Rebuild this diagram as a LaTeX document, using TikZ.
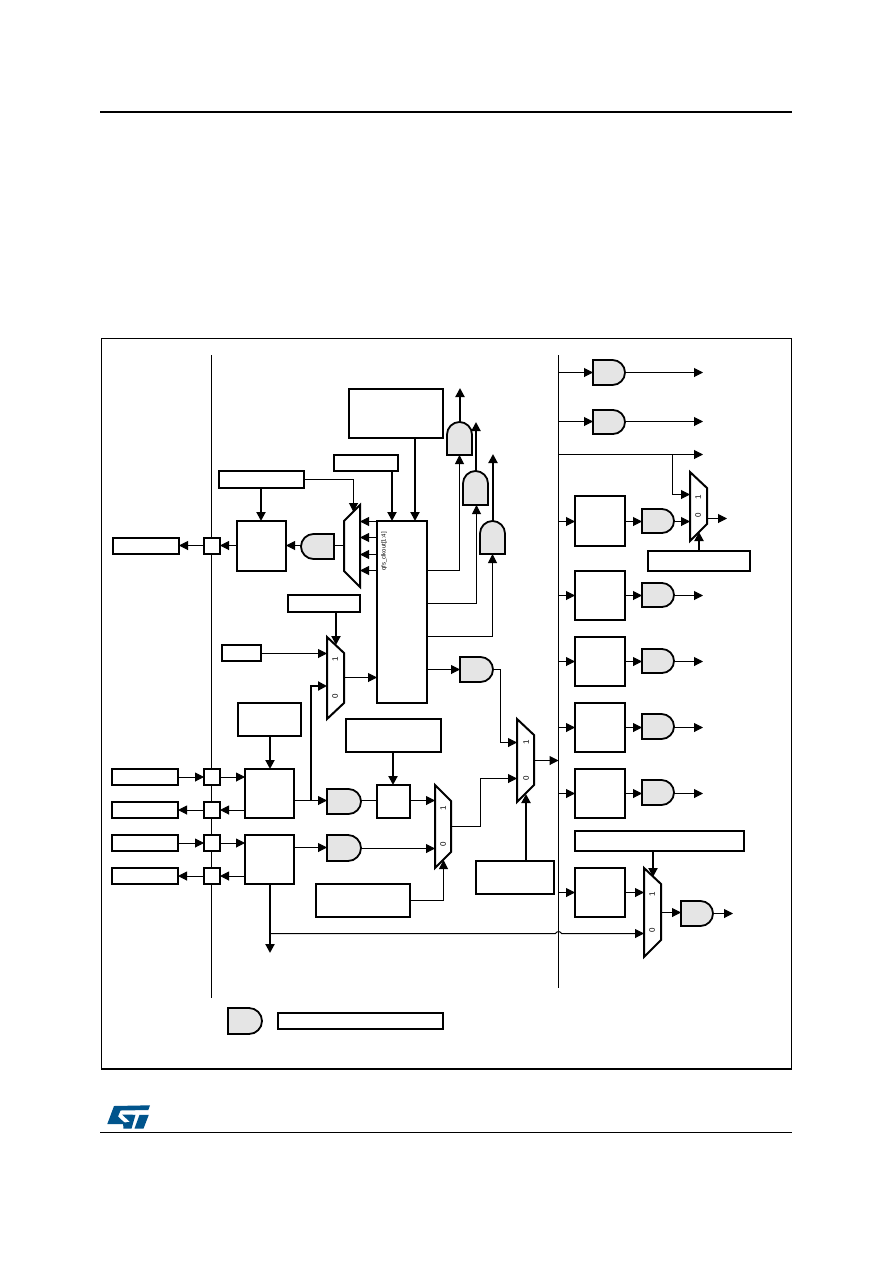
\documentclass[tikz,border=0pt]{standalone}
\usepackage{fontspec}
\setmainfont{Liberation Sans}
\newfontfamily\lblfont{Liberation Sans}
\usetikzlibrary{arrows.meta,calc}
\definecolor{gatefill}{RGB}{229,229,229}
\definecolor{stblue}{RGB}{0,84,140}
\tikzset{
  boxn/.style={draw=black,line width=2pt,fill=white,rectangle,inner sep=0pt,outer sep=0pt},
  hid/.style={rectangle,inner sep=0pt,outer sep=0pt},
  gateline/.style={draw=black,line width=1.8pt,fill=gatefill},
  muxline/.style={draw=black,line width=2pt,fill=white},
  thinw/.style={line width=1pt},
  thickw/.style={line width=2pt},
  thinarr/.style={thinw,-{Triangle[length=9pt,width=9pt]}},
  thickarr/.style={thickw,-{Triangle[length=9pt,width=9pt]}},
  muxlab/.style={font=\lblfont\fontsize{8}{8}\selectfont,rotate=90,inner sep=0pt},
}
\newcommand\bx[5]{% name x1 y1 x2 y2
  \pgfmathsetmacro\bw{#4-#2}\pgfmathsetmacro\bh{#5-#3}
  \pgfmathsetmacro\bcx{(#2+#4)/2}\pgfmathsetmacro\bcy{(#3+#5)/2}
  \node[boxn,minimum width=\bw pt,minimum height=\bh pt] (#1) at (\bcx,\bcy) {};}
\newcommand\hidden[5]{%
  \pgfmathsetmacro\bw{#4-#2}\pgfmathsetmacro\bh{#5-#3}
  \pgfmathsetmacro\bcx{(#2+#4)/2}\pgfmathsetmacro\bcy{(#3+#5)/2}
  \node[hid,minimum width=\bw pt,minimum height=\bh pt] (#1) at (\bcx,\bcy) {};}
\newcommand\gateR[5]{%
  \pgfmathsetmacro\gr{(#5-#3)/2}\pgfmathsetmacro\gm{(#3+#5)/2}
  \pgfmathsetmacro\ga{#4-\gr}\pgfmathsetmacro\gk{0.55*\gr}
  \path[gateline] (#2,#3) -- (\ga,#3) .. controls ({\ga+\gk},#3) and (#4,{\gm-\gk}) .. (#4,\gm)
    .. controls (#4,{\gm+\gk}) and ({\ga+\gk},#5) .. (\ga,#5) -- (#2,#5) -- cycle;
  \hidden{#1}{#2}{#3}{#4}{#5}}
\newcommand\gateL[5]{%
  \pgfmathsetmacro\gr{(#5-#3)/2}\pgfmathsetmacro\gm{(#3+#5)/2}
  \pgfmathsetmacro\ga{#2+\gr}\pgfmathsetmacro\gk{0.55*\gr}
  \path[gateline] (#4,#3) -- (\ga,#3) .. controls ({\ga-\gk},#3) and (#2,{\gm-\gk}) .. (#2,\gm)
    .. controls (#2,{\gm+\gk}) and ({\ga-\gk},#5) .. (\ga,#5) -- (#4,#5) -- cycle;
  \hidden{#1}{#2}{#3}{#4}{#5}}
\newcommand\gateU[5]{%
  \pgfmathsetmacro\gr{(#4-#2)/2}\pgfmathsetmacro\gm{(#2+#4)/2}
  \pgfmathsetmacro\ga{#3+\gr}\pgfmathsetmacro\gk{0.55*\gr}
  \path[gateline] (#2,#5) -- (#2,\ga) .. controls (#2,{\ga-\gk}) and ({\gm-\gk},#3) .. (\gm,#3)
    .. controls ({\gm+\gk},#3) and (#4,{\ga-\gk}) .. (#4,\ga) -- (#4,#5) -- cycle;
  \hidden{#1}{#2}{#3}{#4}{#5}}
\newcommand\mux[7]{% name x1 x2 yl1 yl2 yr1 yr2
  \path[muxline] (#2,#4) -- (#3,#6) -- (#3,#7) -- (#2,#5) -- cycle;
  \pgfmathsetmacro\mt{min(#4,#6)}\pgfmathsetmacro\mb{max(#5,#7)}
  \hidden{#1}{#2}{\mt}{#3}{\mb}}
\begin{document}
\begin{tikzpicture}[x=1pt,y=-1pt,line join=miter]
\useasboundingbox (0,0) rectangle (892,1263);
\fill[white] (0,0) rectangle (892,1263);
% page furniture
\coordinate (hdA) at (100,112); \coordinate (hdB) at (792,112);
\draw[line width=2pt] (hdA) -- (hdB);
\coordinate (ftA) at (100,1132.5); \coordinate (ftB) at (792,1132.5);
\draw[line width=1pt] (ftA) -- (ftB);
\draw[line width=1pt] (101.5,1069) -- (101.5,338.5) -- (791.5,338.5) -- (791.5,1069);
\coordinate (frA) at (101,1069); \coordinate (frB) at (792,1069);
\draw[line width=2pt] (frA) -- (frB);
% logo
\fill[stblue] (107.3,1124) -- (114,1106) -- (150,1105.3) -- (148.3,1110) -- (120.5,1110.5) -- (118,1116.5) -- (126,1124) -- cycle;
\fill[stblue] (123.5,1128.6) -- (131.5,1128.6) -- (135.5,1114.8) -- (122,1114.5) -- (130,1122) -- (123,1122.5) -- cycle;
\fill[stblue] (134.5,1128.6) -- (143.5,1128.6) -- (148.8,1114.8) -- (139.5,1114.8) -- cycle;
% domain lines
\coordinate (dlA) at (211.5,355); \coordinate (dlB) at (211.5,998);
\draw[thinw] (dlA) -- (dlB);
\coordinate (busA) at (558.5,355); \coordinate (busB) at (558.5,988);
\draw[thinw] (busA) -- (busB);
% left column
\bx{extA}{113}{538}{179}{554}
\bx{padA}{204}{538}{220}{554}
\bx{extB}{112}{769}{178}{785}
\bx{extC}{112}{802}{178}{818}
\bx{extD}{112}{835}{178}{851}
\bx{extE}{112}{868}{178}{884}
\bx{padB}{204}{769}{220}{785}
\bx{padC}{204}{802}{220}{818}
\bx{padD}{204}{835}{220}{851}
\bx{padE}{204}{868}{220}{884}
% centre blocks
\bx{cfgTop}{349}{389}{443}{438}
\bx{cfgSmall}{334}{455}{398}{471}
\bx{cfgLong}{219}{471}{304}{488}
\bx{divOut}{237}{521}{286}{571}
\bx{core}{377}{521}{427}{703}
\bx{cfgSel}{288}{595}{360}{612}
\bx{cfgIn}{222}{645}{261}{661}
\bx{cfgHse}{238}{703}{301}{736}
\bx{cfgDiv}{346}{719}{441}{752}
\bx{oscA}{245}{769}{294}{818}
\bx{oscB}{245}{835}{294}{884}
\bx{divC}{377}{785}{410}{818}
\bx{cfgLow}{316}{884}{410}{917}
\bx{cfgSys}{476}{861}{554}{894}
% right blocks
\bx{preA}{575}{496}{625}{546}
\bx{preB}{575}{571}{625}{620}
\bx{preC}{575}{637}{625}{686}
\bx{preD}{575}{703}{625}{752}
\bx{preE}{575}{769}{625}{818}
\bx{preF}{575}{868}{625}{917}
\bx{cfgR}{648}{551}{750}{571}
\bx{cfgBar}{575}{831}{744}{851}
% gates
\gateL{gOut}{301}{534}{334}{559}
\gateU{gUa}{447}{422}{472}{455}
\gateU{gUb}{463}{471}{488}{505}
\gateU{gUc}{480}{521}{505}{554}
\gateR{gCore}{460}{657}{493}{682}
\gateR{gOa}{327}{789}{361}{814}
\gateR{gOb}{327}{835}{361}{861}
\gateR{gTa}{593}{360}{625}{385}
\gateR{gTb}{593}{410}{625}{434}
\gateR{gPa}{642}{509}{674}{533}
\gateR{gPb}{642}{583}{674}{607}
\gateR{gPc}{642}{649}{674}{673}
\gateR{gPd}{642}{714}{674}{739}
\gateR{gPe}{642}{780}{674}{805}
\gateR{gPf}{681}{901}{713}{926}
\gateR{gLeg}{228}{1008}{262}{1034}
\bx{legBox}{278}{1013}{443}{1029}
% muxes
\mux{mxF}{344}{360}{521}{571}{505}{587}
\mux{mxA}{327}{344}{637}{719}{653}{703}
\mux{mxC}{435}{451}{785}{868}{801}{852}
\mux{mxB}{517}{534}{719}{802}{735}{785}
\mux{mxD}{690}{707}{472}{541}{488}{524}
\mux{mxE}{644}{661}{868}{957}{884}{940}
% labels
\node[muxlab] (lA1) at (335,659) {1}; \node[muxlab] (lA0) at (335,696) {0};
\node[muxlab] (lC1) at (443,808) {1}; \node[muxlab] (lC0) at (443,844) {0};
\node[muxlab] (lB1) at (526,742) {1}; \node[muxlab] (lB0) at (526,778) {0};
\node[muxlab] (lD1) at (698,497) {1}; \node[muxlab] (lD0) at (698,515) {0};
\node[muxlab] (lE1) at (652,894) {1}; \node[muxlab] (lE0) at (652,930) {0};
\node[rotate=90,anchor=west,inner sep=0pt,font=\lblfont\fontsize{6}{6}\selectfont] (clkTxt) at (384,571) {qfs\_clkout[1:4]};
% free ends
\coordinate (uaEnd) at (460,388);
\coordinate (ubEnd) at (476,422);
\coordinate (ucEnd) at (493,454);
\coordinate (taEnd) at (703,373);
\coordinate (tbEnd) at (703,422);
\coordinate (tcEnd) at (703,455);
\coordinate (pbEnd) at (703,595);
\coordinate (pcEnd) at (703,661);
\coordinate (pdEnd) at (703,727);
\coordinate (peEnd) at (703,793);
\coordinate (pfEnd) at (733,913);
\coordinate (mdEnd) at (727,518);
\coordinate (oscEnd) at (270,953);
% centre-left connectors
\draw[thickarr] (cfgLong.south -| 261,0) -- (divOut.north -| 261,0);
\draw[thinw,-{Triangle[length=9pt,width=9pt]}] (cfgLong.east |- 0,479.5) -| (353.5,512);
\draw[thickarr] (cfgSmall.south -| 392,0) -- (core.north -| 392,0);
\draw[thickarr] (cfgTop.south -| 415,0) -- (core.north -| 415,0);
\draw[thinarr] (core.west |- 0,521.5) -- (mxF.east |- 0,521.5);
\draw[thinarr] (core.west |- 0,537.5) -- (mxF.east |- 0,537.5);
\draw[thinarr] (core.west |- 0,554.5) -- (mxF.east |- 0,554.5);
\draw[thinarr] (core.west |- 0,570.5) -- (mxF.east |- 0,570.5);
\draw[thinw] (mxF.west |- 0,545.5) -- (gOut.east |- 0,545.5);
\draw[thinarr] (gOut.west |- 0,545.5) -- (divOut.east |- 0,545.5);
\draw[thinarr] (divOut.west |- 0,545.5) -- (padA.east |- 0,545.5);
\draw[thinarr] (padA.west |- 0,545.5) -- (extA.east |- 0,545.5);
\draw[thickarr] (cfgSel.south -| 336,0) -- (336,645);
\draw[thinarr] (cfgIn.east |- 0,653.5) -- (mxA.west |- 0,653.5);
\draw[thinarr] (mxA.east |- 0,677.5) -- (core.west |- 0,677.5);
\draw[thinarr] (core.east |- 0,570.5) -| (gUa.south -| 459.5,0);
\draw[thinarr] (core.east |- 0,603.5) -| (gUb.south -| 476.5,0);
\draw[thinarr] (core.east |- 0,636.5) -| (gUc.south -| 492.5,0);
\draw[thinarr] (core.east |- 0,669.5) -- (gCore.west |- 0,669.5);
\draw[thickarr] (gUa.north -| uaEnd) -- (uaEnd);
\draw[thickarr] (gUb.north -| ubEnd) -- (ubEnd);
\draw[thickarr] (gUc.north -| ucEnd) -- (ucEnd);
\draw[thinarr] (gCore.east |- 0,669.5) -- (500.5,669.5) |- (mxB.west |- 0,742.5);
% oscillators
\draw[thickarr] (cfgHse.south -| oscEnd) -- (oscA.north -| oscEnd);
\draw[thinarr] (extB.east) -- (padB.west);
\draw[thinarr] (padC.west) -- (extC.east);
\draw[thinarr] (extD.east) -- (padD.west);
\draw[thinarr] (padE.west) -- (extE.east);
\draw[thinarr] (padB.east) -- (oscA.west |- padB.east);
\draw[thinarr] (oscA.west |- padC.east) -- (padC.east);
\draw[thinarr] (padD.east) -- (oscB.west |- padD.east);
\draw[thinarr] (oscB.west |- padE.east) -- (padE.east);
\draw[thinarr] (oscA.east |- 0,800.5) -- (gOa.west |- 0,800.5);
\draw[thinarr] (oscB.east |- 0,847.5) -- (gOb.west |- 0,847.5);
\draw[thickw,-{Triangle[length=9pt,width=9pt]}] (311,801) -- (311,686) -- (mxA.west |- 0,686);
\draw[thinw] (gOa.east |- 0,800.5) -- (divC.west |- 0,800.5);
\draw[thickarr] (cfgDiv.south -| 393,0) -- (divC.north -| 393,0);
\draw[thinarr] (divC.east |- 0,800.5) -- (mxC.west |- 0,800.5);
\draw[thinarr] (gOb.east |- 0,848.5) -- (mxC.west |- 0,848.5);
\draw[thinarr] (cfgLow.east |- 0,900.5) -| (443.5,860);
\draw[thinarr] (mxC.east |- 0,826.5) -- (480.5,826.5) |- (mxB.west |- 0,778.5);
\draw[thickarr] (oscB.south -| oscEnd) -- (oscEnd);
\coordinate (brStart) at (oscEnd |- 0,933.5);
\draw[thinarr] (brStart) -- (555.5,933.5) .. controls (556.5,931) and (560.5,931) .. (561.5,933.5) -- (mxE.west |- brStart);
\draw[thickarr] (cfgSys.north -| 526,0) -- (526,794);
\draw[thinarr] (mxB.east |- 0,760.5) -- (busA |- 0,760.5);
% right side connectors
\draw[thinarr] (busA |- 0,372.5) -- (gTa.west |- 0,372.5);
\draw[thinarr] (busA |- 0,421.5) -- (gTb.west |- 0,421.5);
\draw[thinarr] (gTa.east |- 0,372.5) -- (taEnd |- 0,372.5);
\draw[thinarr] (gTb.east |- 0,421.5) -- (tbEnd |- 0,421.5);
\draw[thinarr] (busA |- 0,454.5) -- (tcEnd |- 0,454.5);
\draw[thinarr] (672.5,454.5) |- (mxD.west |- 0,494.5);
\draw[thinarr] (busA |- 0,521.5) -- (preA.west |- 0,521.5);
\draw[thinarr] (busA |- 0,595.5) -- (preB.west |- 0,595.5);
\draw[thinarr] (busA |- 0,661.5) -- (preC.west |- 0,661.5);
\draw[thinarr] (busA |- 0,727.5) -- (preD.west |- 0,727.5);
\draw[thinarr] (busA |- 0,793.5) -- (preE.west |- 0,793.5);
\draw[thinarr] (busA |- 0,892.5) -- (preF.west |- 0,892.5);
\draw[thinarr] (preA.east |- 0,521.5) -- (gPa.west |- 0,521.5);
\draw[thinarr] (preB.east |- 0,595.5) -- (gPb.west |- 0,595.5);
\draw[thinarr] (preC.east |- 0,661.5) -- (gPc.west |- 0,661.5);
\draw[thinarr] (preD.east |- 0,727.5) -- (gPd.west |- 0,727.5);
\draw[thinarr] (preE.east |- 0,793.5) -- (gPe.west |- 0,793.5);
\draw[thinarr] (preF.east |- 0,892.5) -- (mxE.west |- 0,892.5);
\draw[thinarr] (gPa.east |- 0,521.5) -- (mxD.west |- 0,521.5);
\draw[thinarr] (gPb.east |- 0,595.5) -- (pbEnd |- 0,595.5);
\draw[thinarr] (gPc.east |- 0,661.5) -- (pcEnd |- 0,661.5);
\draw[thinarr] (gPd.east |- 0,727.5) -- (pdEnd |- 0,727.5);
\draw[thinarr] (gPe.east |- 0,793.5) -- (peEnd |- 0,793.5);
\draw[thinarr] (mxD.east |- 0,518.5) -- (mdEnd |- 0,518.5);
\draw[thickarr] (cfgR.north -| 699,0) -- (699,532);
\draw[thickarr] (cfgBar.south -| 653,0) -- (653,877);
\draw[thinarr] (mxE.east |- 0,912.5) -- (gPf.west |- 0,912.5);
\draw[thinarr] (gPf.east |- 0,913.5) -- (pfEnd |- 0,913.5);
\end{tikzpicture}
\end{document}
